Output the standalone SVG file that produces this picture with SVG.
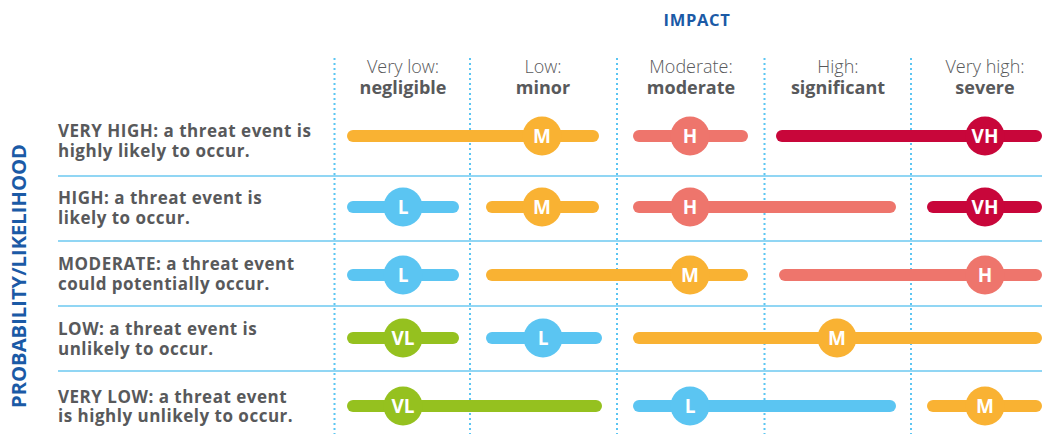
<svg xmlns="http://www.w3.org/2000/svg" width="1042" height="434" viewBox="0 0 1042 434">
<style>
.t{font-family:"Open Sans","Liberation Sans",sans-serif;}
.title{font-weight:700;fill:#1b5aa6;}
.ch{font-size:18px;fill:#58595b;text-anchor:middle;}
.chl{font-weight:300;}
.chb{font-weight:700;}
.rl{font-size:17px;font-weight:700;fill:#58595b;letter-spacing:0.5px;}
.grid{stroke:#6cc9f0;stroke-width:1.5;}
.dot{stroke:#5bc5f2;stroke-width:2;stroke-dasharray:2 3;}
.bar{stroke-width:12;stroke-linecap:round;fill:none;}
.lab{font-family:"Open Sans","Liberation Sans",sans-serif;font-size:19px;font-weight:700;fill:#fff;text-anchor:middle;}
.o{stroke:#f9b233;} .of{fill:#f9b233;}
.s{stroke:#ee756c;} .sf{fill:#ee756c;}
.c{stroke:#c8063a;} .cf{fill:#c8063a;}
.b{stroke:#5bc5f2;} .bf{fill:#5bc5f2;}
.g{stroke:#95c11f;} .gf{fill:#95c11f;}
</style>
<rect width="1042" height="434" fill="#fff"/>
<g id="grid">
<line class="grid" x1="58" y1="176" x2="1042" y2="176"/>
<line class="grid" x1="58" y1="241" x2="1042" y2="241"/>
<line class="grid" x1="58" y1="306" x2="1042" y2="306"/>
<line class="grid" x1="58" y1="371" x2="1042" y2="371"/>
<line class="dot" x1="334.5" y1="58" x2="334.5" y2="434"/>
<line class="dot" x1="470" y1="58" x2="470" y2="434"/>
<line class="dot" x1="617" y1="58" x2="617" y2="434"/>
<line class="dot" x1="764.5" y1="58" x2="764.5" y2="434"/>
<line class="dot" x1="911" y1="58" x2="911" y2="434"/>
</g>
<g id="titles">
<text class="t title" x="697" y="26" font-size="16.5" text-anchor="middle" letter-spacing="0.7">IMPACT</text>
<text class="t title" font-size="20.2" text-anchor="middle" transform="translate(26,276) rotate(-90)">PROBABILITY/LIKELIHOOD</text>
</g>
<g id="col-headers">
<text class="t ch chl" x="403" y="73">Very low:</text><text class="t ch chb" x="403" y="94">negligible</text>
<text class="t ch chl" x="543" y="73">Low:</text><text class="t ch chb" x="543" y="94">minor</text>
<text class="t ch chl" x="691" y="73">Moderate:</text><text class="t ch chb" x="691" y="94">moderate</text>
<text class="t ch chl" x="838" y="73">High:</text><text class="t ch chb" x="838" y="94">significant</text>
<text class="t ch chl" x="985" y="73">Very high:</text><text class="t ch chb" x="985" y="94">severe</text>
</g>
<g id="row-labels">
<text class="t rl" x="58" y="137">VERY HIGH: a threat event is</text><text class="t rl" x="58" y="157">highly likely to occur.</text>
<text class="t rl" x="58" y="204">HIGH: a threat event is</text><text class="t rl" x="58" y="224">likely to occur.</text>
<text class="t rl" x="58" y="269.5">MODERATE: a threat event</text><text class="t rl" x="58" y="290">could potentially occur.</text>
<text class="t rl" x="58" y="334.5">LOW: a threat event is</text><text class="t rl" x="58" y="354.5">unlikely to occur.</text>
<text class="t rl" x="58" y="402.5">VERY LOW: a threat event</text><text class="t rl" x="58" y="422">is highly unlikely to occur.</text>
</g>
<g id="row1">
<g id="r1-m"><line class="bar o" x1="353" y1="136" x2="593" y2="136"/><circle class="of" cx="542" cy="136" r="19.5"/><text class="lab" x="542" y="142.5">M</text></g>
<g id="r1-h"><line class="bar s" x1="639" y1="136" x2="742" y2="136"/><circle class="sf" cx="690" cy="136" r="19.5"/><text class="lab" x="690" y="142.5">H</text></g>
<g id="r1-vh"><line class="bar c" x1="782" y1="136" x2="1036" y2="136"/><circle class="cf" cx="985" cy="136" r="19.5"/><text class="lab" x="985" y="142.5">VH</text></g>
</g>
<g id="row2">
<g id="r2-l"><line class="bar b" x1="353" y1="207" x2="453" y2="207"/><circle class="bf" cx="403" cy="207" r="19.5"/><text class="lab" x="403" y="213.5">L</text></g>
<g id="r2-m"><line class="bar o" x1="492" y1="207" x2="593" y2="207"/><circle class="of" cx="542" cy="207" r="19.5"/><text class="lab" x="542" y="213.5">M</text></g>
<g id="r2-h"><line class="bar s" x1="639" y1="207" x2="890" y2="207"/><circle class="sf" cx="690" cy="207" r="19.5"/><text class="lab" x="690" y="213.5">H</text></g>
<g id="r2-vh"><line class="bar c" x1="933" y1="207" x2="1036" y2="207"/><circle class="cf" cx="985" cy="207" r="19.5"/><text class="lab" x="985" y="213.5">VH</text></g>
</g>
<g id="row3">
<g id="r3-l"><line class="bar b" x1="353" y1="275" x2="453" y2="275"/><circle class="bf" cx="403" cy="275" r="19.5"/><text class="lab" x="403" y="281.5">L</text></g>
<g id="r3-m"><line class="bar o" x1="492" y1="275" x2="742" y2="275"/><circle class="of" cx="690" cy="275" r="19.5"/><text class="lab" x="690" y="281.5">M</text></g>
<g id="r3-h"><line class="bar s" x1="785" y1="275" x2="1036" y2="275"/><circle class="sf" cx="985" cy="275" r="19.5"/><text class="lab" x="985" y="281.5">H</text></g>
</g>
<g id="row4">
<g id="r4-vl"><line class="bar g" x1="353" y1="338" x2="453" y2="338"/><circle class="gf" cx="403" cy="338" r="19.5"/><text class="lab" x="403" y="344.5">VL</text></g>
<g id="r4-l"><line class="bar b" x1="492" y1="338" x2="596" y2="338"/><circle class="bf" cx="543" cy="338" r="19.5"/><text class="lab" x="543" y="344.5">L</text></g>
<g id="r4-m"><line class="bar o" x1="639" y1="338" x2="1036" y2="338"/><circle class="of" cx="837" cy="338" r="19.5"/><text class="lab" x="837" y="344.5">M</text></g>
</g>
<g id="row5">
<g id="r5-vl"><line class="bar g" x1="353" y1="406" x2="596" y2="406"/><circle class="gf" cx="403" cy="406" r="19.5"/><text class="lab" x="403" y="412.5">VL</text></g>
<g id="r5-l"><line class="bar b" x1="639" y1="406" x2="890" y2="406"/><circle class="bf" cx="690" cy="406" r="19.5"/><text class="lab" x="690" y="412.5">L</text></g>
<g id="r5-m"><line class="bar o" x1="933" y1="406" x2="1036" y2="406"/><circle class="of" cx="985" cy="406" r="19.5"/><text class="lab" x="985" y="412.5">M</text></g>
</g>
</svg>
